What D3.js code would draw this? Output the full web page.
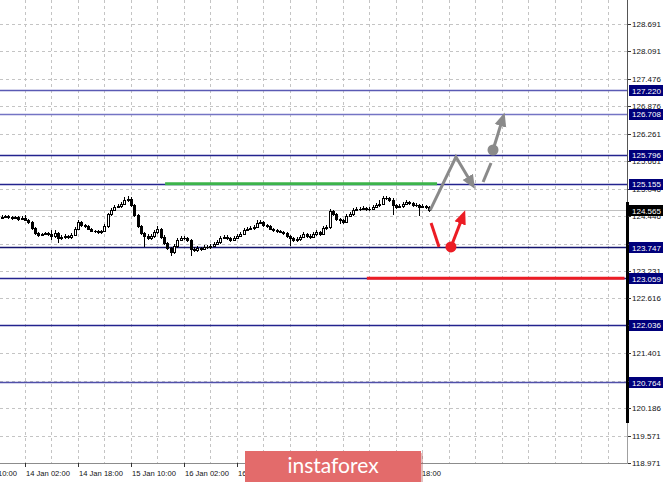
<!DOCTYPE html>
<html><head><meta charset="utf-8">
<script src="https://cdn.jsdelivr.net/npm/d3@7"></script>
<style>html,body{margin:0;padding:0;background:#fff;overflow:hidden}svg{display:block}</style>
</head><body><svg id="c" width="665" height="482"></svg>
<script>
const opens = [124.40,124.42,124.44,124.42,124.40,124.42,124.37,124.40,124.35,124.31,124.17,124.06,124.02,124.04,124.06,124.04,124.00,124.06,123.95,123.98,124.00,123.98,124.02,124.15,124.31,124.24,124.22,124.15,124.11,124.11,124.09,124.11,124.22,124.48,124.57,124.64,124.66,124.71,124.80,124.82,124.68,124.46,124.22,124.06,124.00,123.95,124.00,124.09,124.15,123.98,123.84,123.73,123.64,123.78,123.91,123.95,123.95,123.91,123.71,123.69,123.73,123.71,123.75,123.75,123.78,123.82,123.86,123.95,123.98,123.95,123.91,123.95,124.00,124.04,124.13,124.15,124.17,124.20,124.29,124.31,124.24,124.22,124.15,124.13,124.11,124.09,124.06,124.00,123.95,123.91,123.93,123.98,124.04,124.00,123.98,124.04,124.09,124.04,124.17,124.20,124.55,124.48,124.37,124.35,124.31,124.44,124.48,124.57,124.60,124.60,124.62,124.60,124.60,124.64,124.68,124.71,124.84,124.84,124.80,124.68,124.64,124.66,124.71,124.75,124.73,124.68,124.68,124.64,124.66,124.64];
const closes = [124.42,124.44,124.42,124.40,124.42,124.37,124.40,124.35,124.31,124.17,124.06,124.02,124.04,124.06,124.04,124.00,124.06,123.95,123.98,124.00,123.98,124.02,124.15,124.31,124.24,124.22,124.15,124.11,124.11,124.09,124.11,124.22,124.48,124.57,124.64,124.66,124.71,124.80,124.82,124.68,124.46,124.22,124.06,124.00,123.95,124.00,124.09,124.15,123.98,123.84,123.73,123.64,123.78,123.91,123.95,123.95,123.91,123.71,123.69,123.73,123.71,123.75,123.75,123.78,123.82,123.86,123.95,123.98,123.95,123.91,123.95,124.00,124.04,124.13,124.15,124.17,124.20,124.29,124.31,124.24,124.22,124.15,124.13,124.11,124.09,124.06,124.00,123.95,123.91,123.93,123.98,124.04,124.00,123.98,124.04,124.09,124.04,124.17,124.20,124.55,124.48,124.37,124.35,124.31,124.44,124.48,124.57,124.60,124.60,124.62,124.60,124.60,124.64,124.68,124.71,124.84,124.84,124.80,124.68,124.64,124.66,124.71,124.75,124.73,124.68,124.68,124.64,124.66,124.64,124.565];
const highs = [124.46,124.47,124.46,124.44,124.45,124.44,124.43,124.47,124.38,124.33,124.19,124.09,124.07,124.08,124.09,124.13,124.13,124.08,124.01,124.04,124.03,124.07,124.19,124.35,124.33,124.27,124.24,124.18,124.14,124.14,124.14,124.26,124.51,124.62,124.68,124.71,124.75,124.85,124.88,124.86,124.71,124.49,124.25,124.09,124.04,124.04,124.13,124.22,124.18,124.01,123.87,123.76,123.82,123.95,123.99,124.00,123.98,123.94,123.75,123.77,123.76,123.79,123.80,123.82,123.86,123.90,123.99,124.02,124.01,123.98,123.99,124.04,124.08,124.17,124.19,124.21,124.24,124.36,124.35,124.33,124.27,124.24,124.18,124.16,124.13,124.11,124.08,124.03,123.98,123.97,124.02,124.09,124.07,124.04,124.08,124.13,124.11,124.21,124.24,124.59,124.58,124.50,124.40,124.38,124.48,124.52,124.61,124.64,124.64,124.66,124.65,124.64,124.68,124.72,124.80,124.88,124.89,124.87,124.83,124.71,124.70,124.75,124.79,124.78,124.76,124.72,124.71,124.70,124.69,124.67];
const lows = [124.37,124.39,124.38,124.36,124.37,124.34,124.35,124.32,124.27,124.14,124.02,123.98,123.99,124.01,124.00,123.91,123.96,123.84,123.91,123.93,123.93,123.94,124.00,124.12,124.20,124.18,124.12,124.08,124.07,124.05,124.05,124.08,124.18,124.45,124.54,124.61,124.62,124.68,124.76,124.64,124.42,124.17,124.02,123.76,123.90,123.91,123.96,124.05,123.94,123.80,123.68,123.55,123.60,123.74,123.88,123.91,123.86,123.56,123.64,123.65,123.67,123.68,123.71,123.72,123.75,123.79,123.83,123.92,123.91,123.87,123.88,123.92,123.97,124.01,124.10,124.12,124.14,124.17,124.26,124.20,124.18,124.12,124.09,124.07,124.06,124.02,123.96,123.78,123.86,123.87,123.89,123.95,123.96,123.94,123.95,124.00,124.00,124.01,124.14,124.16,124.44,124.33,124.26,124.27,124.28,124.41,124.45,124.54,124.56,124.57,124.56,124.56,124.57,124.61,124.65,124.68,124.79,124.76,124.46,124.60,124.61,124.62,124.68,124.69,124.64,124.64,124.44,124.61,124.60,124.53];

const priceTicks = [128.691,128.091,127.476,126.876,126.261,125.661,125.046,124.446,123.831,123.231,122.616,122.016,121.401,120.786,120.186,119.571,118.971];
const levelValues = [127.220,126.708,125.796,125.155,123.747,123.059,122.036,120.764];
const levelColors = ["#5a5ab4","#7474c4","#23238e","#23238e","#14146e","#23238e","#23238e","#5050aa"];
const currentPrice = 124.565;
const timeLabels = ["13 Jan 10:00","14 Jan 02:00","14 Jan 18:00","15 Jan 10:00","16 Jan 02:00","16 Jan 18:00","17 Jan 10:00","20 Jan 02:00","20 Jan 18:00"];
const timeLabelIdx = [-9,7,23,39,55,71,87,103,119];
const greenSeg = {from:49.3, to:131.4, price:125.155};
const redSeg = {from:110.2, to:188, price:123.059};
const grayPath1 = [[129.3,124.565],[137.1,125.746],[141.3,125.230]];
const grayPath2 = [[145.3,125.193],[147.7,125.614]];
const grayDot = [148.3,125.901];
const grayPath3 = [[148.3,125.901],[150.9,126.520]];
const redPath1 = [[129.6,124.285],[132.0,123.754]];
const redDot = [135.6,123.754];
const redPath2 = [[135.6,123.754],[138.8,124.360]];

const svg = d3.select("#c");
const plotR = 627, plotB = 463;
const x = d3.scaleLinear().domain([0,129]).range([1.8,429.1]);
const y = d3.scaleLinear().domain([118.971,128.691]).range([463,24]);

const defs = svg.append("defs");
defs.append("clipPath").attr("id","plot").append("rect").attr("x",0).attr("y",0).attr("width",plotR).attr("height",plotB);
function marker(id,color){
  defs.append("marker").attr("id",id).attr("markerUnits","userSpaceOnUse")
    .attr("viewBox","0 0 14 14").attr("markerWidth",14).attr("markerHeight",14)
    .attr("refX",4).attr("refY",7).attr("orient","auto")
    .append("path").attr("d","M0,1 L14,7 L0,13 Z").attr("fill",color);
}
marker("ag","#8a8a8a"); marker("ar","#ec1c24");

const g = svg.append("g").attr("clip-path","url(#plot)");
// grid
const gridIdx = d3.range(7, 190, 8);
g.selectAll(".vg").data(gridIdx).join("line")
  .attr("x1",d=>Math.round(x(d))+0.5).attr("x2",d=>Math.round(x(d))+0.5)
  .attr("y1",0).attr("y2",plotB).attr("stroke","#c4c4c4").attr("stroke-dasharray","3,3");
g.selectAll(".hg").data(priceTicks).join("line")
  .attr("x1",0).attr("x2",plotR).attr("y1",d=>Math.round(y(d))+0.5).attr("y2",d=>Math.round(y(d))+0.5)
  .attr("stroke","#c4c4c4").attr("stroke-dasharray","3,3");

// current price line
g.append("line").attr("x1",0).attr("x2",plotR).attr("y1",Math.round(y(currentPrice))+0.5).attr("y2",Math.round(y(currentPrice))+0.5)
  .attr("stroke","#c0c0c0").attr("stroke-width",1.2);

// level lines
g.selectAll(".lv").data(levelValues).join("line")
  .attr("x1",0).attr("x2",plotR).attr("y1",d=>Math.round(y(d))+0.5).attr("y2",d=>Math.round(y(d))+0.5)
  .attr("stroke",(d,i)=>levelColors[i]).attr("stroke-width",1.3);

// green and red segments
g.append("line").attr("x1",x(greenSeg.from)).attr("x2",x(greenSeg.to)).attr("y1",y(greenSeg.price)).attr("y2",y(greenSeg.price))
  .attr("stroke","#3cb44a").attr("stroke-width",3);
g.append("line").attr("x1",x(redSeg.from)).attr("x2",x(redSeg.to)).attr("y1",y(redSeg.price)).attr("y2",y(redSeg.price))
  .attr("stroke","#ec1c24").attr("stroke-width",3);

// candles
const idx = d3.range(closes.length);
const cg = g.append("g").attr("shape-rendering","crispEdges");
cg.selectAll(".wk").data(idx).join("line")
  .attr("x1",i=>Math.round(x(i))+0.5).attr("x2",i=>Math.round(x(i))+0.5)
  .attr("y1",i=>y(highs[i])).attr("y2",i=>y(lows[i])).attr("stroke","#000");
cg.selectAll(".bd").data(idx).join("rect")
  .attr("x",i=>Math.round(x(i))-1).attr("width",3)
  .attr("y",i=>Math.round(y(Math.max(opens[i],closes[i]))))
  .attr("height",i=>Math.max(1,Math.round(y(Math.min(opens[i],closes[i])))-Math.round(y(Math.max(opens[i],closes[i])))+1))
  .attr("fill","#000");
cg.selectAll(".bw").data(idx.filter(i=>closes[i]>opens[i] && Math.round(y(opens[i]))-Math.round(y(closes[i]))>=2)).join("rect")
  .attr("x",i=>Math.round(x(i))).attr("width",1)
  .attr("y",i=>Math.round(y(closes[i]))+1)
  .attr("height",i=>Math.round(y(opens[i]))-Math.round(y(closes[i]))-1)
  .attr("fill","#fff");

// arrows
const line = d3.line().x(d=>x(d[0])).y(d=>y(d[1]));
const ag = svg.append("g").attr("fill","none").attr("stroke-linejoin","miter");
ag.append("path").attr("d",line(grayPath1)).attr("stroke","#8a8a8a").attr("stroke-width",3).attr("marker-end","url(#ag)");
ag.append("path").attr("d",line(grayPath2)).attr("stroke","#8a8a8a").attr("stroke-width",3);
ag.append("path").attr("d",line(grayPath3)).attr("stroke","#8a8a8a").attr("stroke-width",3).attr("marker-end","url(#ag)");
ag.append("circle").attr("cx",x(grayDot[0])).attr("cy",y(grayDot[1])).attr("r",5.5).attr("fill","#8a8a8a").attr("stroke","none");
ag.append("path").attr("d",line(redPath1)).attr("stroke","#ec1c24").attr("stroke-width",3);
ag.append("path").attr("d",line(redPath2)).attr("stroke","#ec1c24").attr("stroke-width",3).attr("marker-end","url(#ar)");
ag.append("circle").attr("cx",x(redDot[0])).attr("cy",y(redDot[1])).attr("r",5.5).attr("fill","#ec1c24").attr("stroke","none");

// axes frame
svg.append("line").attr("x1",0).attr("x2",plotR+1).attr("y1",plotB+0.5).attr("y2",plotB+0.5).attr("stroke","#8c8c8c");
svg.append("line").attr("x1",plotR+0.5).attr("x2",plotR+0.5).attr("y1",0).attr("y2",plotB+1).attr("stroke","#555");
svg.append("rect").attr("x",plotR-1).attr("y",202).attr("width",3).attr("height",221).attr("fill","#000");
svg.append("line").attr("x1",plotR+0.5).attr("x2",plotR+0.5).attr("y1",423).attr("y2",plotB+1).attr("stroke","#a0a0a0");

// right axis
const font = "'Liberation Sans', Arial, sans-serif";
const ra = svg.append("g");
ra.selectAll(".tk").data(priceTicks).join("line")
  .attr("x1",plotR+1).attr("x2",plotR+4).attr("y1",d=>Math.round(y(d))+0.5).attr("y2",d=>Math.round(y(d))+0.5).attr("stroke","#333");
ra.selectAll(".tl").data(priceTicks).join("text")
  .attr("x",632).attr("y",d=>y(d)+3).attr("font-family",font).attr("font-size","8px").attr("fill","#111").text(d=>d.toFixed(3));
const lb = ra.selectAll(".lb").data(levelValues).join("g");
lb.append("rect").attr("x",629).attr("y",d=>Math.round(y(d))-5).attr("width",34).attr("height",11).attr("fill","#00007a");
lb.append("text").attr("x",632).attr("y",d=>y(d)+3.5).attr("font-family",font).attr("font-size","8px").attr("fill","#fff").text(d=>d.toFixed(3));
ra.append("rect").attr("x",629).attr("y",Math.round(y(currentPrice))-5).attr("width",34).attr("height",11).attr("fill","#000");
ra.append("text").attr("x",632).attr("y",y(currentPrice)+3.5).attr("font-family",font).attr("font-size","8px").attr("fill","#fff").text(currentPrice.toFixed(3));

// bottom axis
const ba = svg.append("g");
ba.selectAll(".bt").data(timeLabelIdx).join("line")
  .attr("x1",i=>Math.round(x(i))+0.5).attr("x2",i=>Math.round(x(i))+0.5).attr("y1",plotB).attr("y2",plotB+4).attr("stroke","#333");
ba.selectAll(".btl").data(timeLabelIdx).join("text")
  .attr("x",i=>x(i)+1).attr("y",476).attr("font-family",font).attr("font-size","7.6px").attr("fill","#111")
  .text((d,i)=>timeLabels[i]);

// logo
const lg = svg.append("g");
lg.append("rect").attr("x",246).attr("y",453).attr("width",177).attr("height",31).attr("fill","#b04848").attr("opacity",0.35);
lg.append("rect").attr("x",245).attr("y",451).attr("width",176).attr("height",31).attr("fill","#e36b6b");
lg.append("text").attr("x",333).attr("y",473).attr("text-anchor","middle").attr("font-family","Lato, 'Open Sans', sans-serif")
  .attr("font-size","21px").attr("fill","#fff").text("instaforex");
</script></body></html>
